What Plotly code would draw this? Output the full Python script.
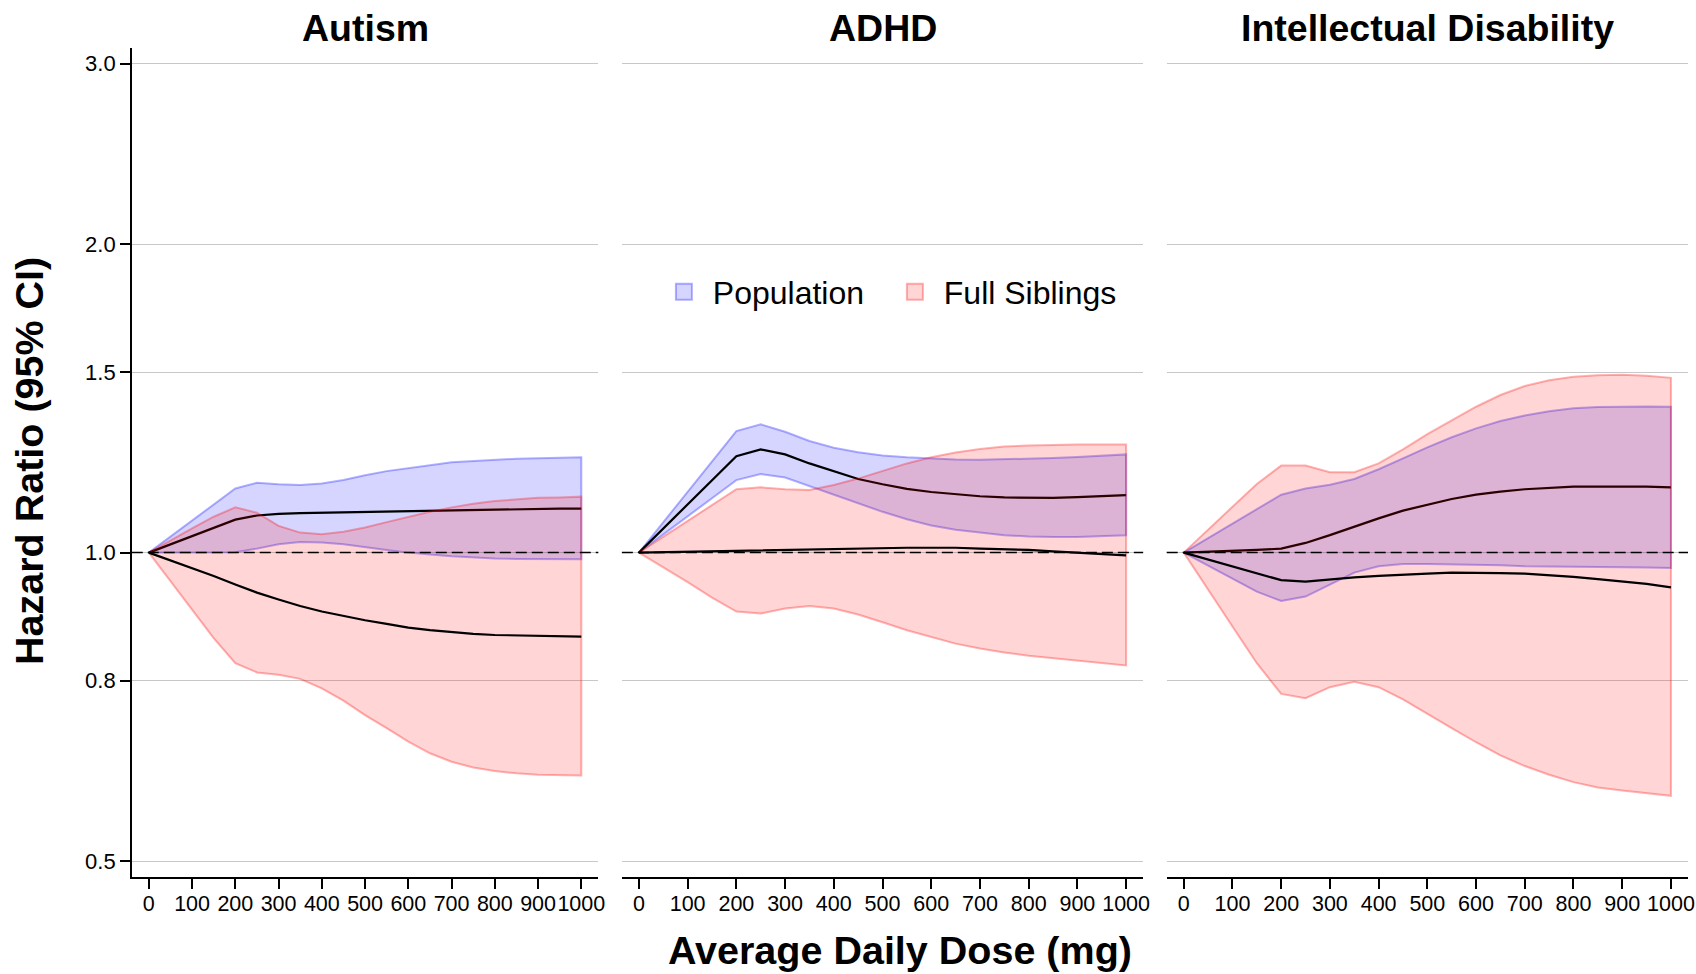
import plotly.graph_objects as go

# ---------------- data (hazard ratios) ----------------
dose = [0, 50, 100, 150, 200, 250, 300, 350, 400, 450, 500,
        550, 600, 650, 700, 750, 800, 850, 900, 950, 1000]

autism_pop_mean = [1.000, 1.019, 1.039, 1.057, 1.077, 1.087, 1.091, 1.093, 1.094, 1.094, 1.095,
                   1.096, 1.098, 1.099, 1.100, 1.101, 1.102, 1.103, 1.103, 1.104, 1.104]
autism_pop_lo = [1.000, 1.000, 1.000, 1.000, 1.001, 1.009, 1.019, 1.024, 1.023, 1.019, 1.012,
                 1.006, 1.000, 0.996, 0.992, 0.989, 0.987, 0.986, 0.985, 0.985, 0.985]
autism_pop_hi = [1.000, 1.037, 1.075, 1.114, 1.155, 1.170, 1.166, 1.164, 1.168, 1.177, 1.190,
                 1.201, 1.210, 1.217, 1.225, 1.229, 1.233, 1.235, 1.236, 1.238, 1.239]
autism_sib_mean = [1.000, 0.983, 0.967, 0.949, 0.931, 0.914, 0.900, 0.887, 0.876, 0.867, 0.859,
                   0.852, 0.845, 0.840, 0.836, 0.833, 0.831, 0.830, 0.829, 0.829, 0.828]
autism_sib_lo = [1.000, 0.938, 0.880, 0.825, 0.780, 0.764, 0.760, 0.753, 0.737, 0.717, 0.694,
                 0.674, 0.654, 0.637, 0.625, 0.617, 0.612, 0.609, 0.607, 0.606, 0.606]
autism_sib_hi = [1.000, 1.028, 1.056, 1.084, 1.107, 1.094, 1.062, 1.046, 1.042, 1.048, 1.058,
                 1.071, 1.084, 1.096, 1.107, 1.116, 1.123, 1.127, 1.131, 1.132, 1.134]

adhd_pop_mean = [1.000, 1.056, 1.114, 1.177, 1.242, 1.261, 1.247, 1.222, 1.201, 1.180, 1.166,
                 1.154, 1.146, 1.140, 1.135, 1.132, 1.131, 1.131, 1.133, 1.136, 1.138]
adhd_pop_lo = [1.000, 1.042, 1.085, 1.130, 1.177, 1.193, 1.184, 1.161, 1.140, 1.117, 1.096,
               1.078, 1.063, 1.053, 1.046, 1.040, 1.037, 1.036, 1.036, 1.038, 1.040]
adhd_pop_hi = [1.000, 1.071, 1.146, 1.227, 1.314, 1.334, 1.312, 1.285, 1.266, 1.253, 1.244,
               1.239, 1.235, 1.233, 1.232, 1.233, 1.234, 1.237, 1.240, 1.243, 1.247]
adhd_sib_mean = [1.000, 1.001, 1.002, 1.003, 1.004, 1.005, 1.006, 1.008, 1.009, 1.010, 1.011,
                 1.011, 1.011, 1.011, 1.009, 1.008, 1.006, 1.003, 1.000, 0.997, 0.994]
adhd_sib_lo = [1.000, 0.968, 0.936, 0.904, 0.876, 0.872, 0.882, 0.887, 0.882, 0.870, 0.855,
               0.840, 0.827, 0.815, 0.806, 0.799, 0.793, 0.788, 0.784, 0.780, 0.776]
adhd_sib_hi = [1.000, 1.036, 1.074, 1.113, 1.153, 1.158, 1.153, 1.151, 1.164, 1.181, 1.202,
               1.222, 1.239, 1.252, 1.262, 1.269, 1.272, 1.274, 1.275, 1.275, 1.275]

id_pop_mean = [1.000, 1.002, 1.003, 1.006, 1.009, 1.022, 1.040, 1.060, 1.080, 1.099, 1.114,
               1.128, 1.139, 1.147, 1.153, 1.157, 1.160, 1.160, 1.160, 1.160, 1.158]
id_pop_lo = [1.000, 0.972, 0.943, 0.916, 0.897, 0.906, 0.930, 0.956, 0.970, 0.975, 0.975,
             0.975, 0.973, 0.972, 0.970, 0.969, 0.969, 0.968, 0.967, 0.967, 0.966]
id_pop_hi = [1.000, 1.033, 1.068, 1.103, 1.139, 1.155, 1.165, 1.180, 1.206, 1.236, 1.267,
             1.296, 1.322, 1.344, 1.361, 1.374, 1.383, 1.387, 1.389, 1.389, 1.388]
id_sib_mean = [1.000, 0.985, 0.970, 0.955, 0.940, 0.937, 0.942, 0.946, 0.949, 0.952, 0.954,
               0.956, 0.956, 0.955, 0.954, 0.951, 0.947, 0.942, 0.937, 0.932, 0.925]
id_sib_lo = [1.000, 0.921, 0.847, 0.780, 0.728, 0.721, 0.739, 0.748, 0.739, 0.719, 0.696,
             0.674, 0.653, 0.634, 0.619, 0.607, 0.597, 0.590, 0.586, 0.582, 0.579]
id_sib_hi = [1.000, 1.053, 1.109, 1.167, 1.216, 1.216, 1.198, 1.198, 1.222, 1.261, 1.305,
             1.347, 1.388, 1.425, 1.454, 1.473, 1.485, 1.490, 1.491, 1.488, 1.481]

panel_titles = ["Autism", "ADHD", "Intellectual Disability"]
series_names = ["Population", "Full Siblings"]
x_tick_vals = [0, 100, 200, 300, 400, 500, 600, 700, 800, 900, 1000]
y_tick_vals = [0.5, 0.75, 1.0, 1.5, 2.0, 3.0]
y_tick_text = ["0.5", "0.8", "1.0", "1.5", "2.0", "3.0"]
reference_hr = 1.0

panels = [
    (autism_pop_mean, autism_pop_lo, autism_pop_hi, autism_sib_mean, autism_sib_lo, autism_sib_hi),
    (adhd_pop_mean, adhd_pop_lo, adhd_pop_hi, adhd_sib_mean, adhd_sib_lo, adhd_sib_hi),
    (id_pop_mean, id_pop_lo, id_pop_hi, id_sib_mean, id_sib_lo, id_sib_hi),
]

# ---------------- styling / layout ----------------
W_REF, H = 1696, 974          # reference coordinate frame
W = 1704                      # figure width (the page capture is ~1704 px wide)
FONT = "Liberation Sans, Arial, Helvetica, sans-serif"
POP_FILL = "rgba(0,0,255,0.165)"
POP_LINE = "rgba(0,0,255,0.30)"
SIB_FILL = "rgba(255,0,0,0.165)"
SIB_LINE = "rgba(255,0,0,0.30)"
GRID = "#c8c8c8"


def px(xw):
    return xw / W_REF


def py(yw):
    return 1 - yw / H


x_domains = [[px(131.7), px(598)], [px(621.5), px(1142.5)], [px(1166), px(1687)]]
x_ranges = [[-39.4, 1039.4], [-35, 1035], [-35, 1035]]
y_domain = [py(877), py(47.6)]
y_range = [-0.3166, 0.4929]  # log10 units

fig = go.Figure()

for i, (pm, plo, phi, sm, slo, shi) in enumerate(panels):
    xa = "x" if i == 0 else f"x{i + 1}"
    ya = "y" if i == 0 else f"y{i + 1}"
    fig.add_trace(go.Scatter(x=dose + dose[::-1], y=phi + plo[::-1], mode="lines",
                             fill="toself", fillcolor=POP_FILL,
                             line=dict(color=POP_LINE, width=2),
                             xaxis=xa, yaxis=ya, showlegend=False, hoverinfo="skip"))
    fig.add_trace(go.Scatter(x=dose, y=pm, mode="lines", line=dict(color="black", width=2.2),
                             xaxis=xa, yaxis=ya, showlegend=False, hoverinfo="skip"))
    fig.add_trace(go.Scatter(x=dose + dose[::-1], y=shi + slo[::-1], mode="lines",
                             fill="toself", fillcolor=SIB_FILL,
                             line=dict(color=SIB_LINE, width=2),
                             xaxis=xa, yaxis=ya, showlegend=False, hoverinfo="skip"))
    fig.add_trace(go.Scatter(x=dose, y=sm, mode="lines", line=dict(color="black", width=2.2),
                             xaxis=xa, yaxis=ya, showlegend=False, hoverinfo="skip"))
    # reference line at HR = 1
    fig.add_shape(type="line", xref=f"{xa} domain", x0=0, x1=1, yref=ya,
                  y0=reference_hr, y1=reference_hr, layer="above",
                  line=dict(color="black", width=1.5, dash="11px,5px"))

    xkey = "xaxis" if i == 0 else f"xaxis{i + 1}"
    ykey = "yaxis" if i == 0 else f"yaxis{i + 1}"
    fig.layout[xkey] = dict(domain=x_domains[i], range=x_ranges[i], anchor=ya,
                            tickmode="array", tickvals=x_tick_vals, tickangle=0,
                            ticks="outside", ticklen=10, tickwidth=1.5, tickcolor="black",
                            showline=True, linecolor="black", linewidth=1.5,
                            showgrid=False, zeroline=False, ticklabelstandoff=-4,
                            tickfont=dict(size=21.5, color="black", family=FONT))
    fig.layout[ykey] = dict(type="log", domain=y_domain, range=y_range, anchor=xa,
                            tickmode="array", tickvals=y_tick_vals, ticktext=y_tick_text,
                            showgrid=True, gridcolor=GRID, gridwidth=1, zeroline=False,
                            showline=(i == 0), linecolor="black", linewidth=1.5,
                            ticks="outside" if i == 0 else "", ticklen=10, tickwidth=1.5,
                            tickcolor="black", showticklabels=(i == 0),
                            tickfont=dict(size=22, color="black", family=FONT))

# legend entries (square swatches)
for name, fc, lc in [(series_names[0], POP_FILL, POP_LINE), (series_names[1], SIB_FILL, SIB_LINE)]:
    fig.add_trace(go.Scatter(x=[None], y=[None], mode="markers", name="\u00a0" + name,
                             marker=dict(symbol="square", size=20, color=fc,
                                         line=dict(color=lc, width=2)),
                             xaxis="x2", yaxis="y2", showlegend=True))

title_x = [365, 882, 1426.5]
annotations = []
for t, tx in zip(panel_titles, title_x):
    annotations.append(dict(text=f"<b>{t}</b>", x=px(tx), y=py(28), xref="paper", yref="paper",
                            xanchor="center", yanchor="middle", showarrow=False,
                            font=dict(size=37.5, color="black", family=FONT)))
annotations.append(dict(text="<b>Hazard Ratio (95% CI)</b>", x=px(29), y=py(461),
                        xref="paper", yref="paper", xanchor="center", yanchor="middle",
                        textangle=-90, showarrow=False,
                        font=dict(size=39.5, color="black", family=FONT)))
annotations.append(dict(text="<b>Average Daily Dose (mg)</b>", x=px(899), y=py(950),
                        xref="paper", yref="paper", xanchor="center", yanchor="middle",
                        showarrow=False, font=dict(size=39.5, color="black", family=FONT)))

fig.update_layout(
    width=W, height=H,
    margin=dict(l=0, r=0, t=0, b=0),
    paper_bgcolor="white", plot_bgcolor="white",
    font=dict(family=FONT, color="black"),
    annotations=annotations,
    showlegend=True,
    legend=dict(orientation="h", x=px(663.5), y=py(292), xanchor="left", yanchor="middle",
                bgcolor="rgba(0,0,0,0)", borderwidth=0, entrywidth=186,
                font=dict(size=32, color="black", family=FONT)),
)

# remove the default page margin so the figure starts at the window's corner
fig.write_html("out.html", config={"displayModeBar": False},
               post_script="document.body.style.margin='0';")
